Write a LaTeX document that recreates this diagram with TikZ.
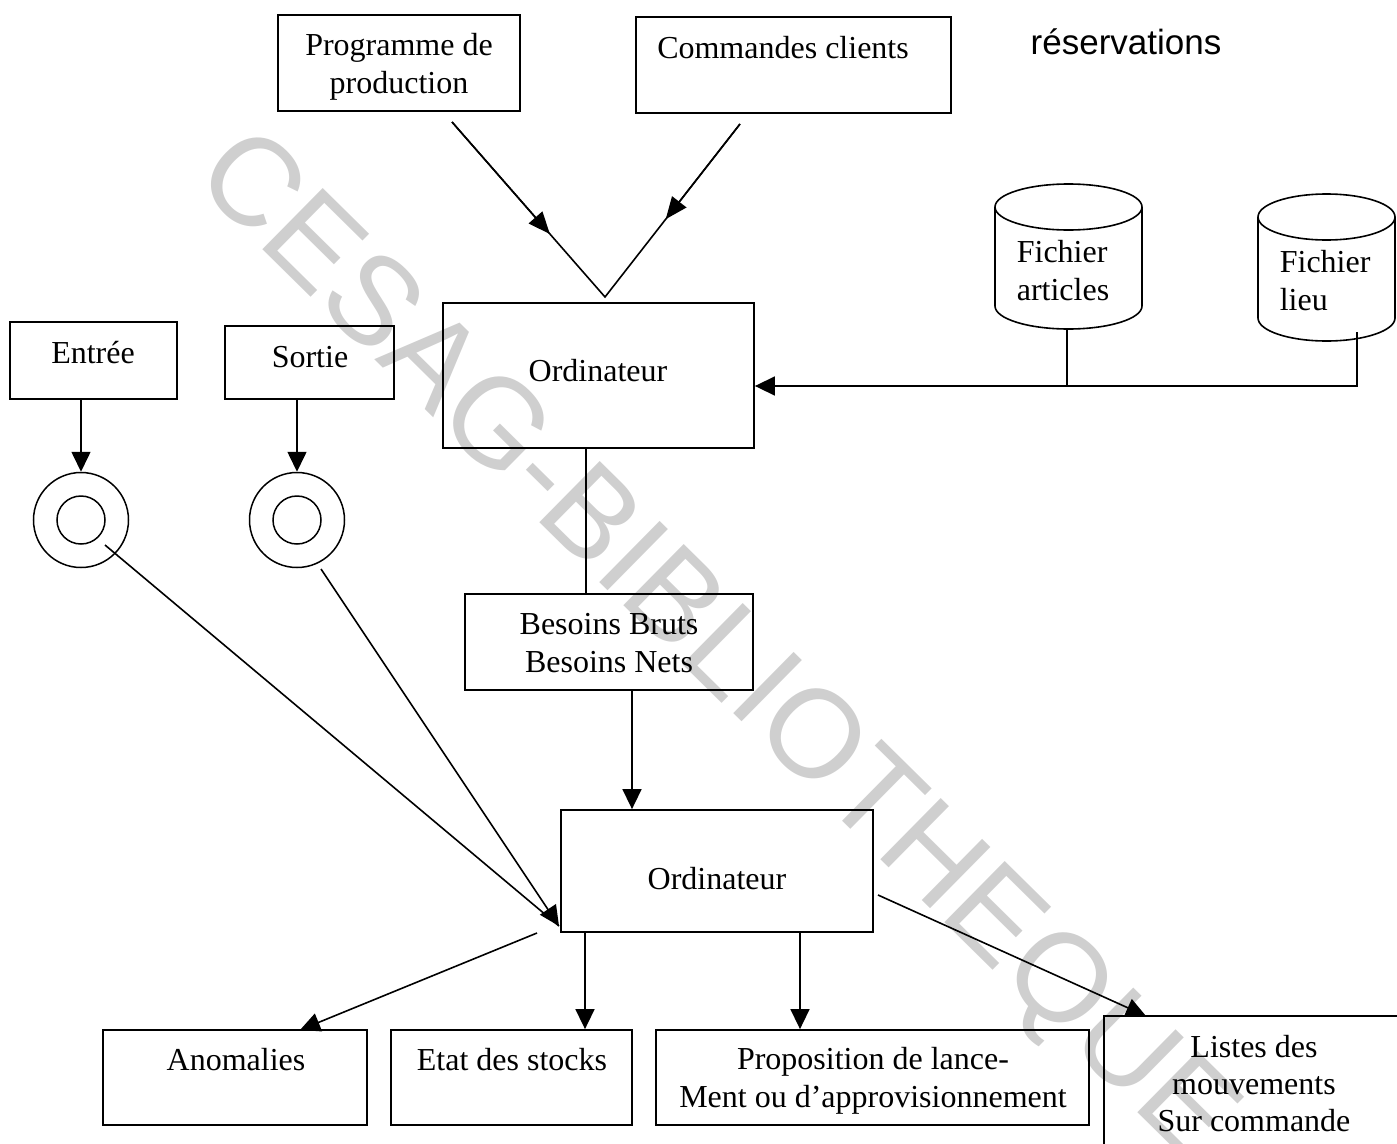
\documentclass[tikz,border=0pt]{standalone}
\usepackage{fontspec}
\setmainfont{Liberation Serif}
\newfontfamily\wmfont{Liberation Sans}
\newfontfamily\labelsans{Liberation Sans}
\usetikzlibrary{arrows.meta,calc}

\begin{document}
\begin{tikzpicture}[x=1pt,y=-1pt,
  line width=1.6pt,
  box/.style={draw, line width=1.8pt, inner sep=0pt},
  txt/.style={inner sep=0pt, align=center, font=\fontsize{32}{38}\selectfont},
  ltxt/.style={inner sep=0pt, align=left, font=\fontsize{32}{38}\selectfont, anchor=west},
  arr/.style={-{Triangle[length=20pt,width=19pt]}},
  midarr/.style={-{Triangle[length=22pt,width=18pt]}},
  ring/.style={circle, draw, line width=1.5pt, inner sep=0pt},
  cyl/.style={line width=1.6pt},
  wmark/.style={text=black!19, inner sep=0pt, font=\wmfont\fontsize{125}{125}\selectfont}
]
\useasboundingbox (0,0) rectangle (1397,1143);
\clip (0,0) rectangle (1397,1143);

% background stamp
\node[wmark, rotate=-44.6] (stamp) at (713,649) {CESAG-BIBLIOTHEQUE};

% top inputs
\node[box, minimum width=242, minimum height=96] (prog) at (399,63) {};
\node[txt] (progt) at (399,67) {Programme de\\production};
\node[box, minimum width=315, minimum height=96] (cmd) at (793.5,65) {};
\node[txt] (cmdt) at (783,48) {Commandes clients};
\node[inner sep=0pt, font=\labelsans\fontsize{35}{40}\selectfont] (resa) at (1126,42) {réservations};

% first computer
\node[box, minimum width=311, minimum height=145] (ord1) at (598.5,375.5) {};
\node[txt] (ord1t) at (598,371) {Ordinateur};

% converging inputs
\coordinate (v1) at (452,122);
\coordinate (v2) at (740,124);
\coordinate (apex) at (605,297);
\draw (v1) -- (apex) -- (v2);
\draw[midarr] (v1) -- ($(v1)!0.64!(apex)$);
\draw[midarr] (v2) -- ($(v2)!0.55!(apex)$);

% files
\draw[cyl] (995,207) -- (995,306) arc[start angle=180, end angle=0, x radius=73.5, y radius=23] -- (1142,207);
\draw[cyl] (1068.5,207) ellipse[x radius=73.5, y radius=23];
\node[ltxt] (fart) at (1016,271) {Fichier\\articles};
\draw[cyl] (1258,217) -- (1258,318) arc[start angle=180, end angle=0, x radius=68.5, y radius=23] -- (1395,217);
\draw[cyl] (1326.5,217) ellipse[x radius=68.5, y radius=23];
\node[ltxt] (flieu) at (1279,281) {Fichier\\lieu};

\coordinate (f1) at (1067,329);
\coordinate (f2) at (1357,332);
\coordinate (fj) at (1357,386);
\draw (f1) -- (f1 |- fj);
\draw[arr] (f2) -- (fj) -- (ord1.east |- fj);

% movement inputs
\node[box, minimum width=167, minimum height=77] (entree) at (93.5,360.5) {};
\node[txt] (entreet) at (93,353) {Entrée};
\node[box, minimum width=169, minimum height=73] (sortie) at (309.5,362.5) {};
\node[txt] (sortiet) at (310,357) {Sortie};

\node[ring, minimum size=95] (c1) at (81,520) {};
\node[ring, minimum size=48] (c1i) at (81,520) {};
\node[ring, minimum size=95] (c2) at (297,520) {};
\node[ring, minimum size=48] (c2i) at (297,520) {};

\draw[arr] (c1.north |- entree.south) -- (c1.north);
\draw[arr] (c2.north |- sortie.south) -- (c2.north);

% requirements
\node[box, minimum width=288, minimum height=96] (bes) at (609,642) {};
\node[txt] (best) at (609,643) {Besoins Bruts\\Besoins Nets};
\coordinate (o1b) at (586,448);
\draw (o1b) -- (o1b |- bes.north);

% second computer
\node[box, minimum width=312, minimum height=122] (ord2) at (717,871) {};
\node[txt] (ord2t) at (717,879) {Ordinateur};
\coordinate (b1) at (632,690);
\draw[arr] (b1) -- (b1 |- ord2.north);

\coordinate (e1) at (105,545);
\coordinate (e2) at (321,569);
\coordinate (hit) at (559,926);
\draw (e1) -- (hit);
\draw[arr] (e2) -- (hit);

% outputs
\node[box, minimum width=264, minimum height=95] (anom) at (235,1077.5) {};
\node[txt] (anomt) at (236,1060) {Anomalies};
\node[box, minimum width=241, minimum height=95] (etat) at (511.5,1077.5) {};
\node[txt] (etatt) at (512,1060) {Etat des stocks};
\node[box, minimum width=433, minimum height=95] (prop) at (872.5,1077.5) {};
\node[txt] (propt) at (873,1081) {Proposition de lance-\\Ment ou d’approvisionnement};
\draw[line width=1.8pt] (1104,1160) -- (1104,1016) -- (1410,1016);
\node[txt, font=\fontsize{32}{37}\selectfont] (listes) at (1254,1084) {Listes des\\mouvements\\Sur commande};

\coordinate (o1) at (537,933);
\coordinate (t1) at (300,1030);
\draw[arr] (o1) -- (t1);
\coordinate (o2) at (585,932);
\draw[arr] (o2) -- (o2 |- etat.north);
\coordinate (o3) at (800,932);
\draw[arr] (o3) -- (o3 |- prop.north);
\coordinate (o4) at (878,895);
\coordinate (t4) at (1146,1016);
\draw[arr] (o4) -- (t4);
\end{tikzpicture}
\end{document}
